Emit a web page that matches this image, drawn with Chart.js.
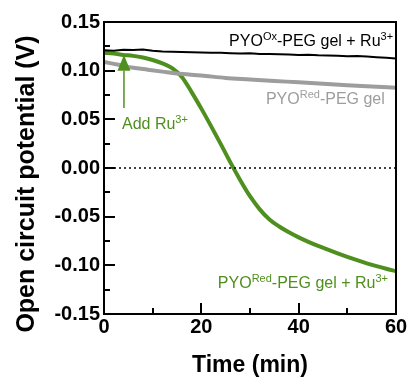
<!DOCTYPE html>
<html>
<head>
<meta charset="utf-8">
<script src="https://cdn.jsdelivr.net/npm/chart.js@4/dist/chart.umd.min.js"></script>
<style>
  html, body { margin: 0; padding: 0; background: #fff; }
  canvas { display: block; }
</style>
</head>
<body>
<canvas id="chart" width="409" height="379"></canvas>
<script>
// time (min) and potential (V) for each trace
const oxTime = [0, 2, 4, 6, 8, 10, 12, 14, 16, 18, 20, 22, 24, 26, 28, 30, 32, 34, 36, 38, 40, 42, 44, 46, 48, 50, 52, 54, 56, 58, 60];
const oxVolt = [0.121, 0.1205, 0.1215, 0.1212, 0.1218, 0.1205, 0.1198, 0.1195, 0.1192, 0.119, 0.1186, 0.1183, 0.1185, 0.118, 0.1176, 0.1178, 0.1172, 0.117, 0.1168, 0.1165, 0.1162, 0.1164, 0.1158, 0.1155, 0.1152, 0.1148, 0.115, 0.1145, 0.1138, 0.1132, 0.1125];

const redTime = [0, 3, 6, 9, 12, 15, 20, 25, 30, 35, 40, 45, 50, 55, 60];
const redVolt = [0.109, 0.106, 0.103, 0.101, 0.099, 0.097, 0.095, 0.0925, 0.091, 0.0895, 0.088, 0.0865, 0.085, 0.0838, 0.0825];

const redRuTime = [0, 2, 4, 6, 8, 10, 12, 14, 16, 18, 20, 22, 24, 26, 28, 30, 32, 34, 36, 38, 40, 42, 44, 46, 48, 50, 52, 54, 56, 58, 60];
const redRuVolt = [0.1185, 0.1175, 0.1162, 0.1152, 0.1135, 0.111, 0.1075, 0.1025, 0.0935, 0.078, 0.061, 0.043, 0.0245, 0.0055, -0.0125, -0.029, -0.0425, -0.0529, -0.0601, -0.0661, -0.0713, -0.0759, -0.0801, -0.0839, -0.0877, -0.0913, -0.0947, -0.0979, -0.1008, -0.1035, -0.106];

const xLabels = [0, 20, 40, 60];
const xMinor = [10, 30, 50];
const yLabels = [-0.15, -0.10, -0.05, 0.00, 0.05, 0.10, 0.15];
const yMinor = [-0.125, -0.075, -0.025, 0.025, 0.075, 0.125];

const addRuTime = 4.1;

const GREEN = "#4f8f1f";
const GRAY = "#9d9d9d";
const FONT = "'Liberation Sans', Arial, sans-serif";

const toPoints = (xs, ys) => xs.map((x, i) => ({ x: x, y: ys[i] }));

// text with superscript pieces, right aligned unless alignLeft
function drawRich(ctx, parts, x, y, color, alignLeft) {
  const main = "16px " + FONT;
  const sup = "11px " + FONT;
  let w = 0;
  parts.forEach(p => {
    ctx.font = p[1] ? sup : main;
    w += ctx.measureText(p[0]).width;
  });
  let cx = alignLeft ? x : x - w;
  ctx.fillStyle = color;
  ctx.textAlign = "left";
  ctx.textBaseline = "alphabetic";
  parts.forEach(p => {
    ctx.font = p[1] ? sup : main;
    ctx.fillText(p[0], cx, p[1] ? y - 6 : y);
    cx += ctx.measureText(p[0]).width;
  });
}

const decorPlugin = {
  id: "decor",
  afterDatasetsDraw(chart) {
    const { ctx, chartArea: a, scales: { x, y } } = chart;
    ctx.save();

    // arrow for Ru3+ addition
    const ax = x.getPixelForValue(addRuTime);
    const aTop = y.getPixelForValue(0.116);
    const aBase = y.getPixelForValue(0.1);
    const aFrom = y.getPixelForValue(0.0617);
    ctx.strokeStyle = GREEN;
    ctx.fillStyle = GREEN;
    ctx.lineWidth = 1.5;
    ctx.beginPath();
    ctx.moveTo(ax, aFrom);
    ctx.lineTo(ax, aBase);
    ctx.stroke();
    ctx.beginPath();
    ctx.moveTo(ax, aTop);
    ctx.lineTo(ax - 6.5, aBase);
    ctx.lineTo(ax + 6.5, aBase);
    ctx.closePath();
    ctx.fill();

    // annotations
    drawRich(ctx, [["PYO", 0], ["Ox", 1], ["-PEG gel + Ru", 0], ["3+", 1]],
      x.getPixelForValue(59.4), y.getPixelForValue(0.1257), "#000");
    drawRich(ctx, [["PYO", 0], ["Red", 1], ["-PEG gel", 0]],
      x.getPixelForValue(57.7), y.getPixelForValue(0.0658), GRAY);
    drawRich(ctx, [["Add Ru", 0], ["3+", 1]],
      x.getPixelForValue(3.7), y.getPixelForValue(0.040), GREEN, true);
    drawRich(ctx, [["PYO", 0], ["Red", 1], ["-PEG gel + Ru", 0], ["3+", 1]],
      x.getPixelForValue(58.35), y.getPixelForValue(-0.1233), GREEN);

    // axis titles
    ctx.fillStyle = "#000";
    ctx.textAlign = "center";
    ctx.textBaseline = "alphabetic";
    ctx.font = "bold 23px " + FONT;
    ctx.fillText("Time (min)", (a.left + a.right) / 2, 372);

    ctx.translate(34, 184);
    ctx.rotate(-Math.PI / 2);
    ctx.font = "bold 25px " + FONT;
    ctx.fillText("Open circuit potential (V)", 0, 0);

    ctx.restore();
  },
  afterDraw(chart) {
    const { ctx, chartArea: a, scales: { x, y } } = chart;
    ctx.save();
    ctx.fillStyle = "#000";
    // frame
    ctx.fillRect(a.left - 1, a.top - 1, a.right - a.left + 2, 2);
    ctx.fillRect(a.left - 1, a.bottom - 1, a.right - a.left + 2, 2);
    ctx.fillRect(a.left - 1, a.top - 1, 2, a.bottom - a.top + 2);
    ctx.fillRect(a.right - 1, a.top - 1, 2, a.bottom - a.top + 2);
    // inward ticks
    xLabels.forEach(v => ctx.fillRect(Math.round(x.getPixelForValue(v)) - 1, a.bottom - 11, 2, 11));
    xMinor.forEach(v => ctx.fillRect(Math.round(x.getPixelForValue(v)) - 1, a.bottom - 6, 2, 6));
    yLabels.forEach(v => ctx.fillRect(a.left, Math.round(y.getPixelForValue(v)) - 1, 11, 2));
    yMinor.forEach(v => ctx.fillRect(a.left, Math.round(y.getPixelForValue(v)) - 1, 6, 2));
    ctx.restore();
  }
};

new Chart(document.getElementById("chart"), {
  type: "line",
  data: {
    datasets: [
      {
        data: [{ x: 0, y: 0 }, { x: 60, y: 0 }],
        borderColor: "#000",
        borderWidth: 1.5,
        borderDash: [2, 3],
        pointRadius: 0
      },
      {
        data: toPoints(redTime, redVolt),
        borderColor: GRAY,
        borderWidth: 4,
        pointRadius: 0,
        cubicInterpolationMode: "monotone"
      },
      {
        data: toPoints(oxTime, oxVolt),
        borderColor: "#000",
        borderWidth: 2,
        pointRadius: 0,
        tension: 0
      },
      {
        data: toPoints(redRuTime, redRuVolt),
        borderColor: GREEN,
        borderWidth: 4,
        pointRadius: 0,
        cubicInterpolationMode: "monotone"
      }
    ]
  },
  options: {
    responsive: false,
    animation: false,
    layout: { padding: { left: 0, top: 22, right: 13, bottom: 0 } },
    plugins: {
      legend: { display: false },
      tooltip: { enabled: false }
    },
    scales: {
      x: {
        type: "linear",
        min: 0,
        max: 60,
        grid: { display: false, drawTicks: false },
        border: { display: false },
        afterBuildTicks: s => { s.ticks = xLabels.map(v => ({ value: v })); },
        afterFit: s => { s.height = 65; },
        ticks: {
          autoSkip: false,
          maxRotation: 0,
          padding: 1,
          color: "#000",
          font: { family: FONT, size: 20, weight: "bold" },
          callback: v => String(v)
        }
      },
      y: {
        type: "linear",
        min: -0.15,
        max: 0.15,
        grid: { display: false, drawTicks: false },
        border: { display: false },
        afterBuildTicks: s => { s.ticks = yLabels.map(v => ({ value: v })); },
        afterFit: s => { s.width = 104; },
        ticks: {
          autoSkip: false,
          padding: 4,
          color: "#000",
          font: { family: FONT, size: 20, weight: "bold" },
          callback: v => v.toFixed(2)
        }
      }
    }
  },
  plugins: [decorPlugin]
});
</script>
</body>
</html>
